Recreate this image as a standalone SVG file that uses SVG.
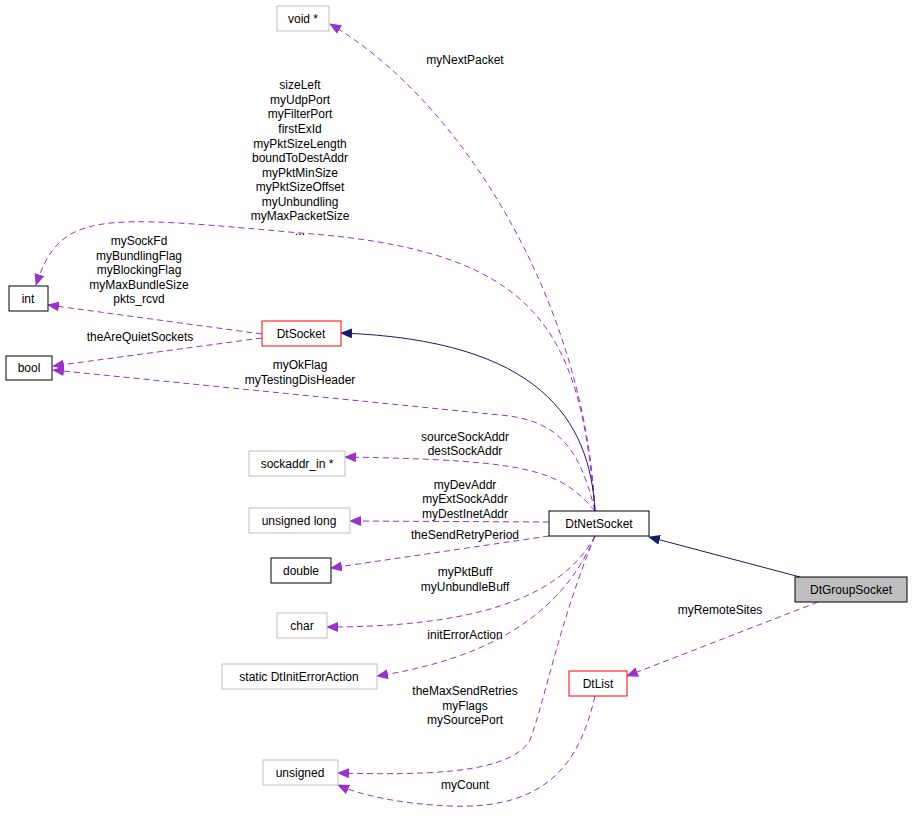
<svg xmlns="http://www.w3.org/2000/svg" width="912" height="816" viewBox="0 0 912 816">
<style>
text{font-family:"Liberation Sans",Arial,sans-serif;font-size:12px;fill:#000}
.n text{text-anchor:middle}
.lb{text-anchor:middle}
.g rect{fill:#fff;stroke:#bfbfbf}
.b rect{fill:#fff;stroke:#000}
.r rect{fill:#fff;stroke:#ff0000}
.d{fill:none;stroke:#9a32cd;stroke-dasharray:6,4}
.s{fill:none;stroke:#191970}
</style>
<defs>
<marker id="pa" markerWidth="12" markerHeight="10" refX="11" refY="5" orient="auto" markerUnits="userSpaceOnUse"><path d="M0,0L12,5L0,10z" fill="#9a32cd"/></marker>
<marker id="na" markerWidth="12" markerHeight="10" refX="11" refY="5" orient="auto" markerUnits="userSpaceOnUse"><path d="M0,0L12,5L0,10z" fill="#191970"/></marker>
</defs>
<rect width="912" height="816" fill="#fff"/>
<g id="connectors">
<path class="d" marker-end="url(#pa)" d="M595,511 C585,300 460,100 330,24"/>
<path class="d" marker-end="url(#pa)" d="M595,511 C580,330 540,250 300,233 C100,215 60,210 36,285"/>
<path class="d" marker-end="url(#pa)" d="M262,334 L48,305"/>
<path class="d" marker-end="url(#pa)" d="M262,338 L53,366"/>
<path class="d" marker-end="url(#pa)" d="M595,511 C580,450 560,420 500,415 L53,370"/>
<path class="d" marker-end="url(#pa)" d="M595,511 C560,470 530,460 345,457"/>
<path class="d" marker-end="url(#pa)" d="M549,522 L350,521"/>
<path class="d" marker-end="url(#pa)" d="M549,536 L331,568"/>
<path class="d" marker-end="url(#pa)" d="M595,536 C560,600 470,627 327,627"/>
<path class="d" marker-end="url(#pa)" d="M595,536 C560,620 480,660 377,676"/>
<path class="d" marker-end="url(#pa)" d="M595,536 C560,620 545,700 530,740 C510,775 420,775 338,773"/>
<path class="d" marker-end="url(#pa)" d="M595,696 C580,760 550,810 450,806 C400,804 360,795 338,785"/>
<path class="d" marker-end="url(#pa)" d="M818,602 L627,676"/>
<path class="s" marker-end="url(#na)" d="M595,511 C590,420 540,340 341,333"/>
<path class="s" marker-end="url(#na)" d="M800,577 L649,537"/>
</g>
<g id="labels">
<text class="lb" x="465" y="64">myNextPacket</text>
<text class="lb" x="300" y="89">sizeLeft</text>
<text class="lb" x="300" y="104">myUdpPort</text>
<text class="lb" x="300" y="118">myFilterPort</text>
<text class="lb" x="300" y="133">firstExId</text>
<text class="lb" x="300" y="148">myPktSizeLength</text>
<text class="lb" x="300" y="162">boundToDestAddr</text>
<text class="lb" x="300" y="177">myPktMinSize</text>
<text class="lb" x="300" y="191">myPktSizeOffset</text>
<text class="lb" x="300" y="206">myUnbundling</text>
<text class="lb" x="300" y="220">myMaxPacketSize</text>
<text class="lb" x="300" y="235">...</text>
<text class="lb" x="139" y="245">mySockFd</text>
<text class="lb" x="139" y="260">myBundlingFlag</text>
<text class="lb" x="139" y="274">myBlockingFlag</text>
<text class="lb" x="139" y="289">myMaxBundleSize</text>
<text class="lb" x="139" y="303">pkts_rcvd</text>
<text class="lb" x="140" y="341">theAreQuietSockets</text>
<text class="lb" x="300" y="369">myOkFlag</text>
<text class="lb" x="300" y="384">myTestingDisHeader</text>
<text class="lb" x="465" y="441">sourceSockAddr</text>
<text class="lb" x="465" y="455">destSockAddr</text>
<text class="lb" x="465" y="489">myDevAddr</text>
<text class="lb" x="465" y="503">myExtSockAddr</text>
<text class="lb" x="465" y="518">myDestInetAddr</text>
<text class="lb" x="465" y="539">theSendRetryPeriod</text>
<text class="lb" x="465" y="576">myPktBuff</text>
<text class="lb" x="465" y="591">myUnbundleBuff</text>
<text class="lb" x="465" y="639">initErrorAction</text>
<text class="lb" x="465" y="695">theMaxSendRetries</text>
<text class="lb" x="465" y="710">myFlags</text>
<text class="lb" x="465" y="724">mySourcePort</text>
<text class="lb" x="465" y="789">myCount</text>
<text class="lb" x="720" y="614">myRemoteSites</text>
</g>
<g id="n_void" class="n g"><rect x="277" y="6" width="52" height="25"/><text x="303" y="23">void *</text></g>
<g id="n_int" class="n b"><rect x="9" y="286" width="39" height="25"/><text x="28" y="303">int</text></g>
<g id="n_DtSocket" class="n r"><rect x="262" y="321" width="79" height="25"/><text x="301" y="338">DtSocket</text></g>
<g id="n_bool" class="n b"><rect x="6" y="356" width="46" height="24"/><text x="29" y="372">bool</text></g>
<g id="n_sockaddr" class="n g"><rect x="249" y="451" width="96" height="25"/><text x="297" y="468">sockaddr_in *</text></g>
<g id="n_ulong" class="n g"><rect x="249" y="508" width="101" height="25"/><text x="299" y="525">unsigned long</text></g>
<g id="n_DtNetSocket" class="n b"><rect x="549" y="511" width="100" height="25"/><text x="599" y="528">DtNetSocket</text></g>
<g id="n_double" class="n b"><rect x="271" y="558" width="60" height="25"/><text x="301" y="575">double</text></g>
<g id="n_char" class="n g"><rect x="277" y="613" width="50" height="25"/><text x="302" y="630">char</text></g>
<g id="n_static" class="n g"><rect x="222" y="664" width="155" height="25"/><text x="299" y="681">static DtInitErrorAction</text></g>
<g id="n_DtGroupSocket" class="n b"><rect x="795" y="577" width="112" height="25" style="fill:#bfbfbf"/><text x="851" y="594">DtGroupSocket</text></g>
<g id="n_DtList" class="n r"><rect x="569" y="671" width="58" height="25"/><text x="598" y="688">DtList</text></g>
<g id="n_unsigned" class="n g"><rect x="263" y="760" width="75" height="25"/><text x="300" y="777">unsigned</text></g>
</svg>
